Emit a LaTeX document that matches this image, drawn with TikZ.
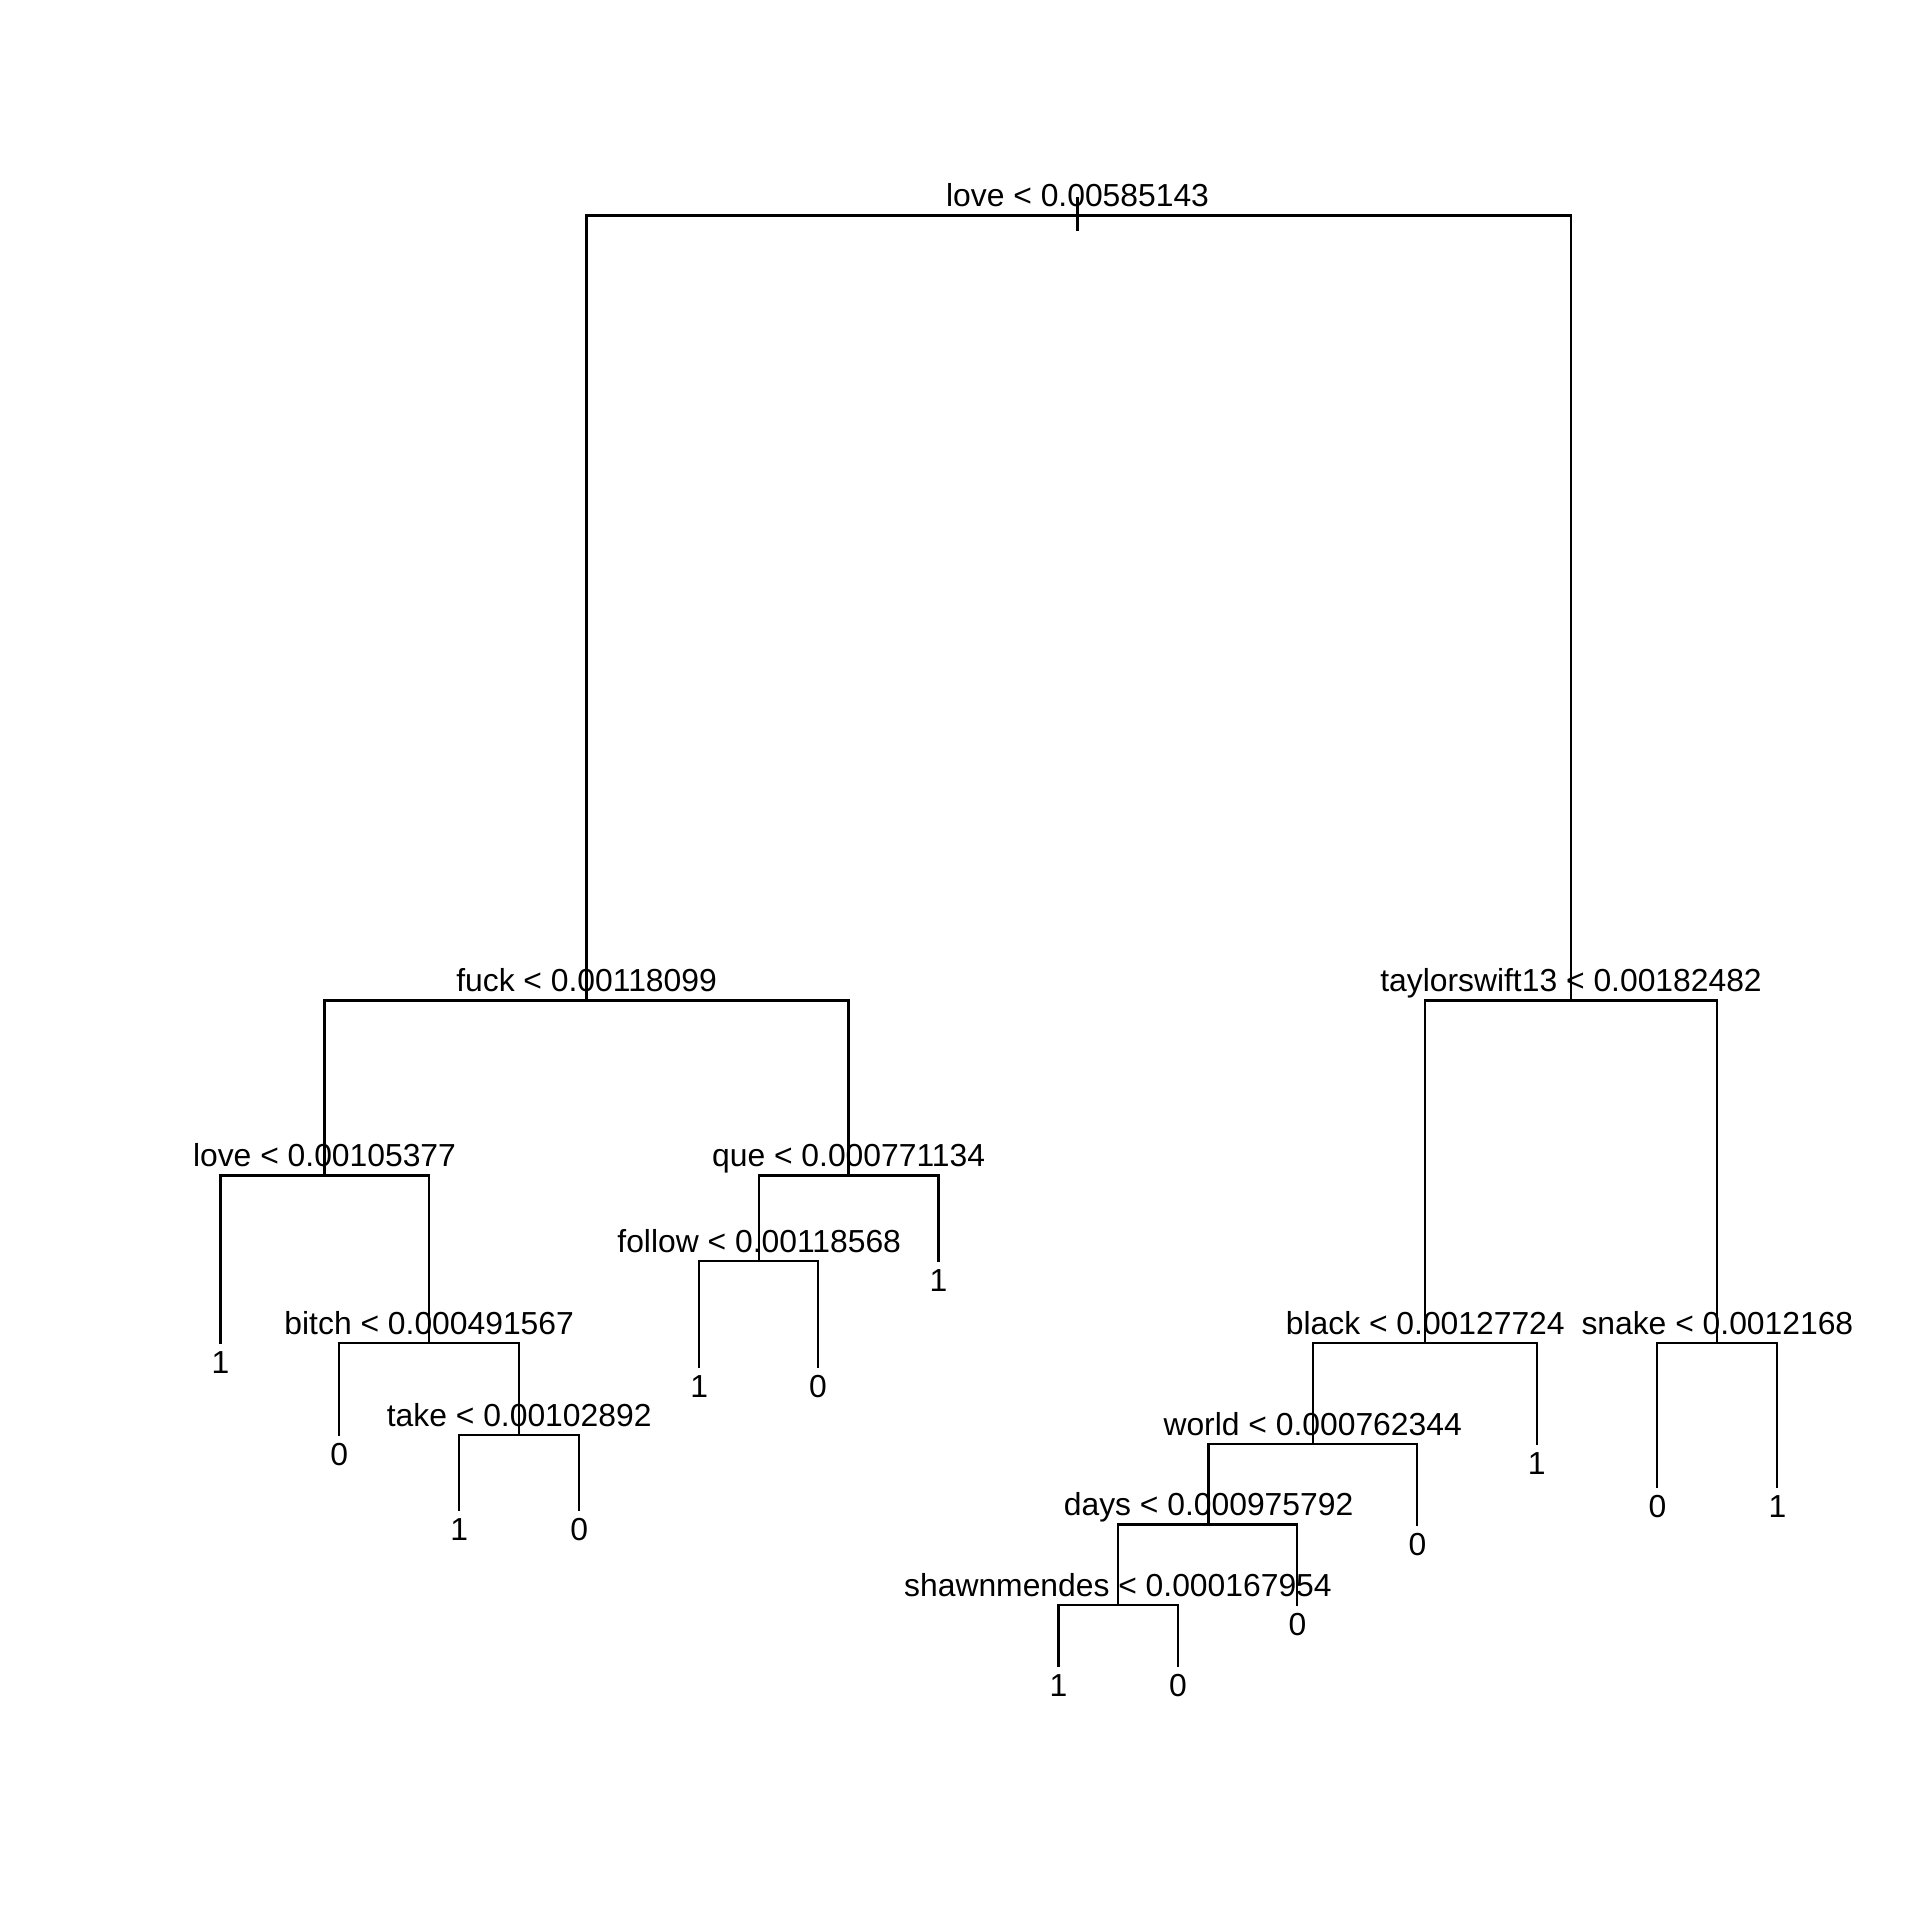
\documentclass[tikz,border=0pt]{standalone}
\usepackage{fontspec}
\setmainfont{Liberation Sans}
\usetikzlibrary{calc}
\begin{document}
\begin{tikzpicture}[x=0.5pt,y=-0.5pt,
  edge/.style={line width=0.9pt,line cap=rect},
  splitlab/.style={anchor=base,inner sep=0pt,yshift=3.5pt,font=\fontsize{13}{15}\selectfont},
  leaflab/.style={anchor=base,inner sep=0pt,yshift=-12.5pt,font=\fontsize{13}{15}\selectfont}]
\useasboundingbox[fill=white] (0,0) rectangle (1568,1568);
% split points
\coordinate (r) at (880,176);
\coordinate (rtop) at (880,162);
\coordinate (rbot) at (880,188);
\coordinate (a) at (479,817);
\coordinate (b) at (1283,817);
\coordinate (aa) at (265,960);
\coordinate (aab) at (350.5,1097);
\coordinate (aabb) at (424,1172);
\coordinate (ab) at (693,960);
\coordinate (aba) at (620,1029.5);
\coordinate (ba) at (1164,1096.5);
\coordinate (baa) at (1072,1179);
\coordinate (baaa) at (987,1245);
\coordinate (baaaa) at (913,1310.5);
\coordinate (bb) at (1402.5,1096.5);
% leaf ends
\coordinate (l1) at (180,1097);
\coordinate (l2) at (277,1172);
\coordinate (l3) at (375,1233);
\coordinate (l4) at (473,1233);
\coordinate (l5) at (571,1116);
\coordinate (l6) at (668,1116);
\coordinate (l7) at (766.5,1030);
\coordinate (l8) at (864.5,1360.5);
\coordinate (l9) at (962,1360.5);
\coordinate (l10) at (1059.5,1311);
\coordinate (l11) at (1157.5,1245.5);
\coordinate (l12) at (1255,1179.5);
\coordinate (l13) at (1353.5,1214);
\coordinate (l14) at (1451.5,1214);
% edges
\draw[edge] (rtop) -- (rbot);
\draw[edge] (r) -| (a); \draw[edge] (r) -| (b);
\draw[edge] (a) -| (aa); \draw[edge] (a) -| (ab);
\draw[edge] (aa) -| (l1); \draw[edge] (aa) -| (aab);
\draw[edge] (aab) -| (l2); \draw[edge] (aab) -| (aabb);
\draw[edge] (aabb) -| (l3); \draw[edge] (aabb) -| (l4);
\draw[edge] (ab) -| (aba); \draw[edge] (ab) -| (l7);
\draw[edge] (aba) -| (l5); \draw[edge] (aba) -| (l6);
\draw[edge] (b) -| (ba); \draw[edge] (b) -| (bb);
\draw[edge] (ba) -| (baa); \draw[edge] (ba) -| (l12);
\draw[edge] (baa) -| (baaa); \draw[edge] (baa) -| (l11);
\draw[edge] (baaa) -| (baaaa); \draw[edge] (baaa) -| (l10);
\draw[edge] (baaaa) -| (l8); \draw[edge] (baaaa) -| (l9);
\draw[edge] (bb) -| (l13); \draw[edge] (bb) -| (l14);
% split labels
\node[splitlab] (tr) at (r) {love < 0.00585143};
\node[splitlab] (ta) at (a) {fuck < 0.00118099};
\node[splitlab] (tb) at (b) {taylorswift13 < 0.00182482};
\node[splitlab] (taa) at (aa) {love < 0.00105377};
\node[splitlab] (taab) at (aab) {bitch < 0.000491567};
\node[splitlab] (taabb) at (aabb) {take < 0.00102892};
\node[splitlab] (tab) at (ab) {que < 0.000771134};
\node[splitlab] (taba) at (aba) {follow < 0.00118568};
\node[splitlab] (tba) at (ba) {black < 0.00127724};
\node[splitlab] (tbaa) at (baa) {world < 0.000762344};
\node[splitlab] (tbaaa) at (baaa) {days < 0.000975792};
\node[splitlab] (tbaaaa) at (baaaa) {shawnmendes < 0.000167954};
\node[splitlab] (tbb) at (bb) {snake < 0.0012168};
% leaf labels
\node[leaflab] (t1) at (l1) {1};
\node[leaflab] (t2) at (l2) {0};
\node[leaflab] (t3) at (l3) {1};
\node[leaflab] (t4) at (l4) {0};
\node[leaflab] (t5) at (l5) {1};
\node[leaflab] (t6) at (l6) {0};
\node[leaflab] (t7) at (l7) {1};
\node[leaflab] (t8) at (l8) {1};
\node[leaflab] (t9) at (l9) {0};
\node[leaflab] (t10) at (l10) {0};
\node[leaflab] (t11) at (l11) {0};
\node[leaflab] (t12) at (l12) {1};
\node[leaflab] (t13) at (l13) {0};
\node[leaflab] (t14) at (l14) {1};
\end{tikzpicture}
\end{document}
